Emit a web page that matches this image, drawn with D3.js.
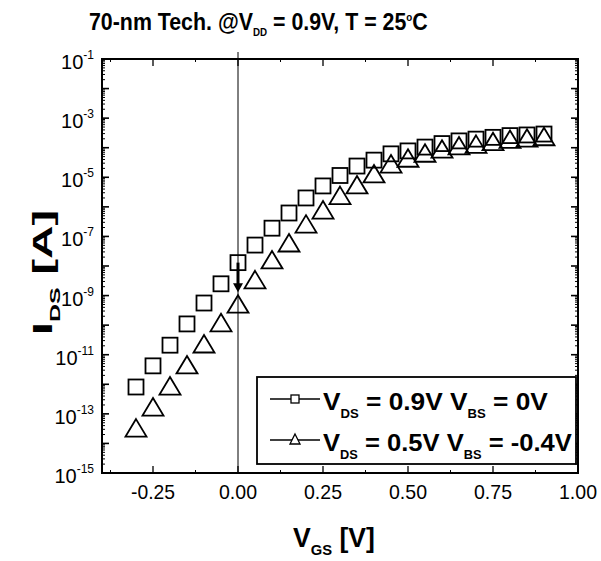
<!DOCTYPE html>
<html>
<head>
<meta charset="utf-8">
<script src="https://d3js.org/d3.v7.min.js"></script>
<style>
  body { margin: 0; background: #fff; }
  text { font-family: "Liberation Sans", Arial, sans-serif; fill: #000; }
</style>
</head>
<body>
<div id="chart"></div>
<script>
// V_GS sweep (V)
var vgs = [-0.30, -0.25, -0.20, -0.15, -0.10, -0.05, 0.00, 0.05, 0.10, 0.15, 0.20, 0.25,
           0.30, 0.35, 0.40, 0.45, 0.50, 0.55, 0.60, 0.65, 0.70, 0.75, 0.80, 0.85, 0.90];

// I_DS (A), V_DS = 0.9V, V_BS = 0V  (squares)
var idsNominal = [8.1e-13, 4.2e-12, 2.1e-11, 1.1e-10, 5.6e-10, 2.5e-9, 1.3e-8, 5.1e-8, 1.9e-7,
                  6.2e-7, 2.0e-6, 5.1e-6, 1.15e-5, 2.4e-5, 3.8e-5, 6.2e-5, 7.8e-5, 1.05e-4,
                  1.38e-4, 1.7e-4, 1.95e-4, 2.24e-4, 2.57e-4, 2.7e-4, 2.9e-4];

// I_DS (A), V_DS = 0.5V, V_BS = -0.4V  (triangles)
var idsBiased = [3.3e-14, 1.7e-13, 8.7e-13, 4.5e-12, 2.3e-11, 1.2e-10, 5.1e-10, 3.4e-9, 1.6e-8,
                 6.0e-8, 2.6e-7, 7.8e-7, 2.4e-6, 5.5e-6, 1.3e-5, 2.8e-5, 4.4e-5, 6.5e-5,
                 8.9e-5, 1.15e-4, 1.3e-4, 1.6e-4, 1.9e-4, 2.1e-4, 2.35e-4];

var xTicks = [-0.25, 0.00, 0.25, 0.50, 0.75, 1.00];
var xTickLabels = ["-0.25", "0.00", "0.25", "0.50", "0.75", "1.00"];
var yTickExps = [-1, -3, -5, -7, -9, -11, -13, -15];

var width = 601, height = 561;
var margin = {top: 59, right: 23, bottom: 88, left: 102};

var svg = d3.select("#chart").append("svg")
    .attr("width", width).attr("height", height);

var x = d3.scaleLinear().domain([-0.4, 1.0]).range([margin.left, width - margin.right]);
var y = d3.scaleLog().domain([1e-15, 1e-1]).range([height - margin.bottom, margin.top]);

var x0 = x.range()[0], x1 = x.range()[1], y0 = y.range()[1], y1 = y.range()[0];

// squeeze a text element horizontally around its left end so it spans w px
function squeeze(t, ax, w, pre) {
    var bw = t.node().getBBox().width;
    t.attr("transform", (pre || "") + "translate(" + ax + ",0) scale(" + (w / bw) + ",1) translate(" + (-ax) + ",0)");
}

// ---- axes: ticks drawn inward on all four sides ----
var axes = svg.append("g").attr("stroke", "#000").attr("fill", "none");

var minorX = d3.range(-0.375, 1.0, 0.25);
axes.selectAll(".xmaj")
    .data(xTicks.slice(0, -1))
    .join("g")
    .each(function (d) {
        var g = d3.select(this);
        g.append("line").attr("x1", x(d)).attr("x2", x(d)).attr("y1", y1).attr("y2", y1 - 7).attr("stroke-width", 1.3);
        g.append("line").attr("x1", x(d)).attr("x2", x(d)).attr("y1", y0).attr("y2", y0 + 7).attr("stroke-width", 1.3);
    });
axes.selectAll(".xmin")
    .data(minorX)
    .join("g")
    .each(function (d) {
        var g = d3.select(this);
        g.append("line").attr("x1", x(d)).attr("x2", x(d)).attr("y1", y1).attr("y2", y1 - 3).attr("stroke-width", 1);
        g.append("line").attr("x1", x(d)).attr("x2", x(d)).attr("y1", y0).attr("y2", y0 + 3).attr("stroke-width", 1);
    });

var yMinor = [];
for (var e = -15; e < -1; e++) {
    for (var m = 2; m < 10; m++) yMinor.push(m * Math.pow(10, e));
}
var yDecades = d3.range(-15, 0).map(function (e) { return Math.pow(10, e); });

axes.selectAll(".ymin")
    .data(yMinor)
    .join("g")
    .each(function (d) {
        var g = d3.select(this);
        g.append("line").attr("x1", x0).attr("x2", x0 + 3).attr("y1", y(d)).attr("y2", y(d)).attr("stroke-width", 1);
        g.append("line").attr("x1", x1).attr("x2", x1 - 3).attr("y1", y(d)).attr("y2", y(d)).attr("stroke-width", 1);
    });
axes.selectAll(".ymaj")
    .data(yDecades)
    .join("g")
    .each(function (d) {
        var g = d3.select(this);
        g.append("line").attr("x1", x0).attr("x2", x0 + 7).attr("y1", y(d)).attr("y2", y(d)).attr("stroke-width", 1.6);
        g.append("line").attr("x1", x1).attr("x2", x1 - 7).attr("y1", y(d)).attr("y2", y(d)).attr("stroke-width", 1.6);
    });

// V_GS = 0 reference line
svg.append("line")
    .attr("x1", x(0)).attr("x2", x(0))
    .attr("y1", y0 - 7).attr("y2", y1)
    .attr("stroke", "#000").attr("stroke-width", 1);

// frame
svg.append("rect")
    .attr("x", x0).attr("y", y0)
    .attr("width", x1 - x0).attr("height", y1 - y0)
    .attr("fill", "none").attr("stroke", "#000").attr("stroke-width", 2);

// ---- tick labels ----
svg.append("g").selectAll("text")
    .data(xTicks)
    .join("text")
    .attr("x", function (d) { return x(d); })
    .attr("y", y1 + 26)
    .attr("text-anchor", "middle")
    .style("font-size", "21px")
    .text(function (d, i) { return xTickLabels[i]; })
    .attr("textLength", function (d, i) { return xTickLabels[i].length > 4 ? 44 : 38; })
    .attr("lengthAdjust", "spacingAndGlyphs");

var yl = svg.append("g").selectAll("text")
    .data(yTickExps)
    .join("text")
    .attr("x", x0 - 8)
    .attr("y", function (d) { return y(Math.pow(10, d)) + 10; })
    .attr("text-anchor", "end")
    .style("font-size", "20px");
yl.append("tspan").text("10");
yl.append("tspan")
    .attr("dy", -10)
    .style("font-size", "12px")
    .text(function (d) { return String(d); });

// ---- markers ----
var sq = 15;
svg.append("g").selectAll("rect")
    .data(vgs)
    .join("rect")
    .attr("x", function (d) { return x(d) - sq / 2; })
    .attr("y", function (d, i) { return y(idsNominal[i]) - sq / 2; })
    .attr("width", sq).attr("height", sq)
    .attr("fill", "none").attr("stroke", "#000").attr("stroke-width", 1.8);

var triPath = "M0,-9L10.5,8.5L-10.5,8.5Z";
svg.append("g").selectAll("path")
    .data(vgs)
    .join("path")
    .attr("d", triPath)
    .attr("transform", function (d, i) { return "translate(" + x(d) + "," + y(idsBiased[i]) + ")"; })
    .attr("fill", "none").attr("stroke", "#000").attr("stroke-width", 1.8);

// arrow at V_GS = 0 from nominal to biased current
var i0 = vgs.indexOf(0);
var aTop = y(idsNominal[i0]), aTip = y(idsBiased[i0]) - 12;
svg.append("line")
    .attr("x1", x(0)).attr("x2", x(0))
    .attr("y1", aTop).attr("y2", aTip - 6)
    .attr("stroke", "#000").attr("stroke-width", 3);
svg.append("path")
    .attr("d", "M" + (x(0) - 5) + "," + (aTip - 9) + "L" + (x(0) + 5) + "," + (aTip - 9) + "L" + x(0) + "," + aTip + "Z")
    .attr("fill", "#000");

// ---- legend ----
var lg = svg.append("g");
lg.append("rect")
    .attr("x", 257).attr("y", 377).attr("width", 319).attr("height", 87)
    .attr("fill", "#fff").attr("stroke", "#000").attr("stroke-width", 1.8);

var rows = [
    {y: 399, sym: "square", vds: "0.9V", vbs: "0V", w: 225},
    {y: 440, sym: "tri", vds: "0.5V", vbs: "-0.4V", w: 249}
];
rows.forEach(function (r) {
    lg.append("line").attr("x1", 270).attr("x2", 320).attr("y1", r.y).attr("y2", r.y)
        .attr("stroke", "#000").attr("stroke-width", 1.5);
    if (r.sym === "square") {
        lg.append("rect").attr("x", 291).attr("y", r.y - 4).attr("width", 8).attr("height", 8)
            .attr("fill", "#fff").attr("stroke", "#000").attr("stroke-width", 1.3);
    } else {
        lg.append("path").attr("d", "M295," + (r.y - 6) + "L300," + (r.y + 4) + "L290," + (r.y + 4) + "Z")
            .attr("fill", "#fff").attr("stroke", "#000").attr("stroke-width", 1.3);
    }
    var t = lg.append("text")
        .attr("x", 323).attr("y", r.y + 11)
        .style("font-size", "24px").style("font-weight", "bold");
    t.append("tspan").text("V");
    t.append("tspan").attr("dy", 8).style("font-size", "12px").text("DS");
    t.append("tspan").attr("dy", -8).text(" = " + r.vds + "  V");
    t.append("tspan").attr("dy", 8).style("font-size", "12px").text("BS");
    t.append("tspan").attr("dy", -8).text(" = " + r.vbs);
    squeeze(t, 323, r.w);
});

// ---- title ----
var title = svg.append("text")
    .attr("x", 89).attr("y", 30)
    .style("font-size", "24px").style("font-weight", "bold");
title.append("tspan").text("70-nm Tech. @V");
title.append("tspan").attr("dy", 6).style("font-size", "11px").text("DD");
title.append("tspan").attr("dy", -6).text(" = 0.9V, T = 25");
title.append("tspan").attr("dy", -9).style("font-size", "11px").text("o");
title.append("tspan").attr("dy", 9).text("C");
squeeze(title, 89, 339);

// ---- axis titles ----
var xt = svg.append("text")
    .attr("x", 293).attr("y", 547)
    .style("font-size", "27px").style("font-weight", "bold");
xt.append("tspan").text("V");
xt.append("tspan").attr("dy", 8).style("font-size", "15px").text("GS");
xt.append("tspan").attr("dy", -8).text(" [V]");
squeeze(xt, 293, 82);

var yt = svg.append("text")
    .attr("transform", "translate(52,335) rotate(-90)")
    .style("font-size", "28px").style("font-weight", "bold");
yt.append("tspan").text("I");
yt.append("tspan").attr("dy", 8).style("font-size", "15px").text("DS");
yt.append("tspan").attr("dy", -8).text(" [A]");
var yw = yt.node().getBBox().width;
yt.attr("transform", "translate(52,335) rotate(-90) scale(" + (125 / yw) + ",1)");
</script>
</body>
</html>
